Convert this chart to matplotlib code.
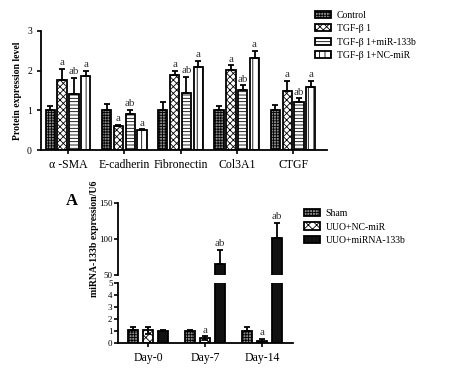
import matplotlib
matplotlib.use("Agg")
import matplotlib.pyplot as plt
import numpy as np
from matplotlib.patches import Patch

plt.rcParams['font.family'] = ['Liberation Serif', 'DejaVu Serif']
plt.rcParams['hatch.linewidth'] = 0.6

# ---- top chart data ----
proteins = ["α -SMA", "E-cadherin", "Fibronectin", "Col3A1", "CTGF"]
top_groups = ["Control", "TGF-β 1", "TGF-β 1+miR-133b", "TGF-β 1+NC-miR"]
ctrl_vals = [1.0, 1.0, 1.0, 1.0, 1.0]
ctrl_err = [0.12, 0.15, 0.2, 0.12, 0.13]
tgf_vals = [1.77, 0.62, 1.9, 2.02, 1.49]
tgf_err = [0.28, 0.02, 0.1, 0.12, 0.26]
mir_vals = [1.42, 0.9, 1.45, 1.51, 1.2]
mir_err = [0.4, 0.12, 0.4, 0.12, 0.1]
nc_vals = [1.87, 0.5, 2.1, 2.31, 1.6]
nc_err = [0.12, 0.02, 0.15, 0.19, 0.15]
tgf_lbl = ["a", "a", "a", "a", "a"]
mir_lbl = ["ab", "ab", "ab", "ab", "ab"]
nc_lbl = ["a", "a", "a", "a", "a"]
top_yticks = [0, 1, 2, 3]

# ---- bottom chart data ----
days = ["Day-0", "Day-7", "Day-14"]
bot_groups = ["Sham", "UUO+NC-miR", "UUO+miRNA-133b"]
sham_vals = [1.1, 1.0, 1.0]
sham_err = [0.25, 0.06, 0.36]
ncm_vals = [1.05, 0.4, 0.2]
ncm_err = [0.3, 0.15, 0.12]
m133_vals = [1.0, 65.0, 101.0]
m133_err = [0.05, 19.0, 21.0]
ncm_lbl = ["", "a", "a"]
m133_lbl = ["", "ab", "ab"]
low_ticks = [0, 1, 2, 3, 4, 5]
up_ticks = [50, 100, 150]

fig = plt.figure(figsize=(4.73, 3.68), dpi=100)

# ===== top chart =====
ax = fig.add_axes([0.0867, 0.592, 0.6043, 0.324])
x = np.arange(len(proteins))
step = 0.21
w = 0.165
styles = [
    dict(facecolor="#8a8a8a", hatch="++++++", edgecolor="black"),
    dict(facecolor="white", hatch="xxxxx", edgecolor="black"),
    dict(facecolor="white", hatch="-----", edgecolor="black"),
    dict(facecolor="white", hatch="|||", edgecolor="black"),
]
series = [(ctrl_vals, ctrl_err, None), (tgf_vals, tgf_err, tgf_lbl),
          (mir_vals, mir_err, mir_lbl), (nc_vals, nc_err, nc_lbl)]
for i, (vals, err, lbl) in enumerate(series):
    pos = x + (i - 1.5) * step
    ax.bar(pos, vals, w, linewidth=1.3, **styles[i])
    ax.errorbar(pos, vals, yerr=[np.zeros(len(vals)), err], fmt="none",
                ecolor="black", elinewidth=1.3, capsize=2.5, capthick=1.3)
    if lbl:
        for p, v, e, t in zip(pos, vals, err, lbl):
            ax.text(p, v + e + 0.04, t, ha="center", va="bottom", fontsize=8, color="#333333")
ax.set_xlim(-0.48, 4.6)
ax.set_ylim(0, 3)
ax.set_yticks(top_yticks)
ax.set_xticks(x)
ax.set_xticklabels(proteins, fontsize=8.5)
ax.tick_params(axis="y", labelsize=7, length=3, width=1.2)
ax.tick_params(axis="x", length=3, width=1.2)
for s in ["top", "right"]:
    ax.spines[s].set_visible(False)
for s in ["left", "bottom"]:
    ax.spines[s].set_linewidth(1.3)
ax.set_ylabel("Protein expression level", fontsize=7, fontweight="bold")
ax.yaxis.set_label_coords(-0.068, 0.5)
handles = [Patch(linewidth=1.3, **styles[i], label=top_groups[i]) for i in range(4)]
fig.legend(handles=handles, loc="upper left", bbox_to_anchor=(0.648, 0.995), frameon=False,
           fontsize=7, handlelength=1.6, handleheight=0.8, labelspacing=0.45, handletextpad=0.6)

# ===== bottom chart (broken axis) =====
ax_lo = fig.add_axes([0.2495, 0.068, 0.3695, 0.163])
ax_up = fig.add_axes([0.2495, 0.253, 0.3695, 0.195], sharex=ax_lo)
xb = np.arange(len(days))
stepb = 0.265
wb = 0.18
bstyles = [
    dict(facecolor="#8a8a8a", hatch="++++++", edgecolor="black"),
    dict(facecolor="white", hatch="xxxx", edgecolor="black"),
    dict(facecolor="#111111", edgecolor="black"),
]
bseries = [(sham_vals, sham_err, None, False), (ncm_vals, ncm_err, ncm_lbl, True),
           (m133_vals, m133_err, m133_lbl, False)]
for i, (vals, err, lbl, both) in enumerate(bseries):
    pos = xb + (i - 1) * stepb
    lo = np.array(err) if both else np.zeros(len(err))
    for a in (ax_lo, ax_up):
        a.bar(pos, vals, wb, linewidth=1.3, **bstyles[i])
        a.errorbar(pos, vals, yerr=[lo, err], fmt="none", ecolor="black",
                   elinewidth=1.3, capsize=2.5, capthick=1.3)
    if lbl:
        for p, v, e, t in zip(pos, vals, err, lbl):
            if not t:
                continue
            target = ax_up if v > 5 else ax_lo
            off = 3 if v > 5 else 0.15
            target.text(p, v + e + off, t, ha="center", va="bottom", fontsize=8, color="#333333")
ax_lo.set_ylim(0, 5)
ax_up.set_ylim(50, 150)
ax_lo.set_xlim(-0.53, 2.54)
ax_lo.set_yticks(low_ticks)
ax_up.set_yticks(up_ticks)
ax_lo.set_xticks(xb)
ax_lo.set_xticklabels(days, fontsize=8.5)
ax_up.tick_params(axis="x", bottom=False, labelbottom=False)
for a in (ax_lo, ax_up):
    a.tick_params(axis="y", labelsize=6.5, length=3, width=1.2, pad=1)
    for s in ["top", "right"]:
        a.spines[s].set_visible(False)
    a.spines["left"].set_linewidth(1.3)
ax_lo.spines["bottom"].set_linewidth(1.3)
ax_lo.tick_params(axis="x", length=3, width=1.2)
ax_up.spines["bottom"].set_visible(False)
ax_up.patch.set_alpha(0)
ax_lo.patch.set_alpha(0)
fig.text(0.2, 0.35, "miRNA-133b expression/U6", rotation=90, fontsize=7,
         fontweight="bold", ha="center", va="center")
fig.text(0.152, 0.455, "A", fontsize=12, fontweight="bold", ha="center", va="center")
bhandles = [Patch(linewidth=1.3, **bstyles[i], label=bot_groups[i]) for i in range(3)]
fig.legend(handles=bhandles, loc="upper left", bbox_to_anchor=(0.625, 0.456), frameon=False,
           fontsize=7, handlelength=1.6, handleheight=0.8, labelspacing=0.45, handletextpad=0.6)

fig.savefig("out.png", dpi=100)
